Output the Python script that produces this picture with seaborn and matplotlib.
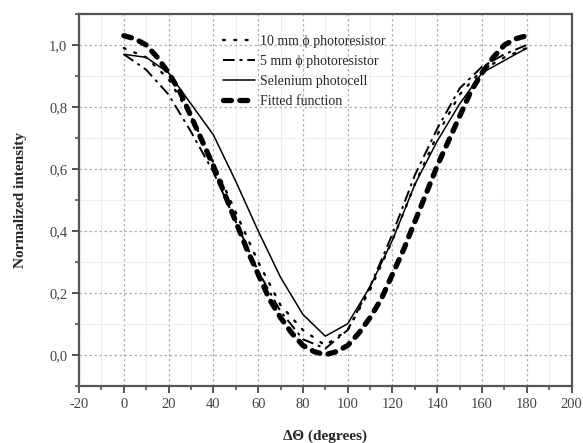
import numpy as np
import pandas as pd
import matplotlib
matplotlib.use("Agg")
import matplotlib.pyplot as plt
from matplotlib.ticker import MultipleLocator, FuncFormatter
import seaborn as sns

# measured points (every 10 degrees)
angle = [0, 10, 20, 30, 40, 50, 60, 70, 80, 90, 100, 110, 120, 130, 140, 150, 160, 170, 180]
res10mm = [0.99, 0.96, 0.89, 0.77, 0.62, 0.46, 0.30, 0.16, 0.08, 0.03, 0.08, 0.21, 0.37, 0.55, 0.71, 0.84, 0.92, 0.96, 0.99]
res5mm = [0.97, 0.92, 0.84, 0.72, 0.59, 0.43, 0.27, 0.14, 0.05, 0.02, 0.08, 0.22, 0.39, 0.58, 0.73, 0.86, 0.93, 0.97, 1.00]
selenium = [0.97, 0.96, 0.91, 0.81, 0.71, 0.56, 0.40, 0.25, 0.13, 0.06, 0.10, 0.22, 0.37, 0.55, 0.69, 0.81, 0.91, 0.95, 0.99]

# fitted curve (every 5 degrees)
fit_angle = [0, 5, 10, 15, 20, 25, 30, 35, 40, 45, 50, 55, 60, 65, 70, 75, 80, 85, 90,
             95, 100, 105, 110, 115, 120, 125, 130, 135, 140, 145, 150, 155, 160, 165, 170, 175, 180]
fitted = [1.03, 1.02, 1.00, 0.96, 0.91, 0.85, 0.77, 0.69, 0.61, 0.52, 0.43, 0.34, 0.26, 0.18, 0.12, 0.07, 0.03, 0.01, 0.00,
          0.01, 0.03, 0.07, 0.12, 0.18, 0.26, 0.34, 0.43, 0.52, 0.61, 0.69, 0.77, 0.85, 0.91, 0.96, 1.00, 1.02, 1.03]

sns.set_theme(style="ticks")
plt.rcParams["font.family"] = ["Liberation Serif", "DejaVu Serif"]
plt.rcParams["font.size"] = 10
plt.rcParams["axes.unicode_minus"] = False

fig = plt.figure(figsize=(5.83, 4.43), dpi=100)
ax = fig.add_axes([0.1355, 0.1293, 0.845, 0.8391])

sns.lineplot(x=angle, y=res10mm, ax=ax, color="black", linestyle=(0, (0.8, 4)), linewidth=1.7,
             dash_capstyle="round", label="10 mm \u03d5 photoresistor")
sns.lineplot(x=angle, y=res5mm, ax=ax, color="black", linestyle=(0, (6, 2.5, 1.5, 2.5)), linewidth=1.4,
             label="5 mm \u03d5 photoresistor")
sns.lineplot(x=angle, y=selenium, ax=ax, color="black", linestyle="-", linewidth=1.1,
             label="Selenium photocell")
sns.lineplot(x=fit_angle, y=fitted, ax=ax, color="black", linestyle=(0, (1.5, 1.6)), linewidth=3.8,
             dash_capstyle="round", label="Fitted function")

ax.set_xlim(-20, 200)
ax.set_ylim(-0.1, 1.1)
ax.xaxis.set_major_locator(MultipleLocator(20))
ax.xaxis.set_minor_locator(MultipleLocator(10))
ax.yaxis.set_major_locator(MultipleLocator(0.2))
ax.yaxis.set_minor_locator(MultipleLocator(0.1))
ax.yaxis.set_major_formatter(FuncFormatter(lambda v, p: "{:.1f}".format(v).replace(".", ",")))

ax.grid(which="minor", color="#eeeeee", linestyle="-", linewidth=0.8)
ax.grid(which="major", color="#b0b0b0", linestyle=(0, (2, 2)), linewidth=0.9)
ax.set_axisbelow(True)

for s in ax.spines.values():
    s.set_color("#555555")
    s.set_linewidth(1.6)
ax.tick_params(which="major", direction="out", length=5, width=1.4, color="#555555",
               labelsize=10.5, labelcolor="#444444", top=False, right=False)
ax.tick_params(which="minor", direction="out", length=3, width=1.2, color="#555555", top=False, right=False)

ax.set_xlabel("\u0394\u0398 (degrees)", fontsize=11, fontweight="bold", labelpad=14)
ax.set_ylabel("Normalized intensity", fontsize=11, fontweight="bold", labelpad=16)

ax.legend(loc="upper left", bbox_to_anchor=(0.264, 0.98), frameon=False, fontsize=10,
          handlelength=2.3, labelspacing=0.5, handletextpad=0.35, borderaxespad=0.6)

fig.savefig("out.png", dpi=100)
